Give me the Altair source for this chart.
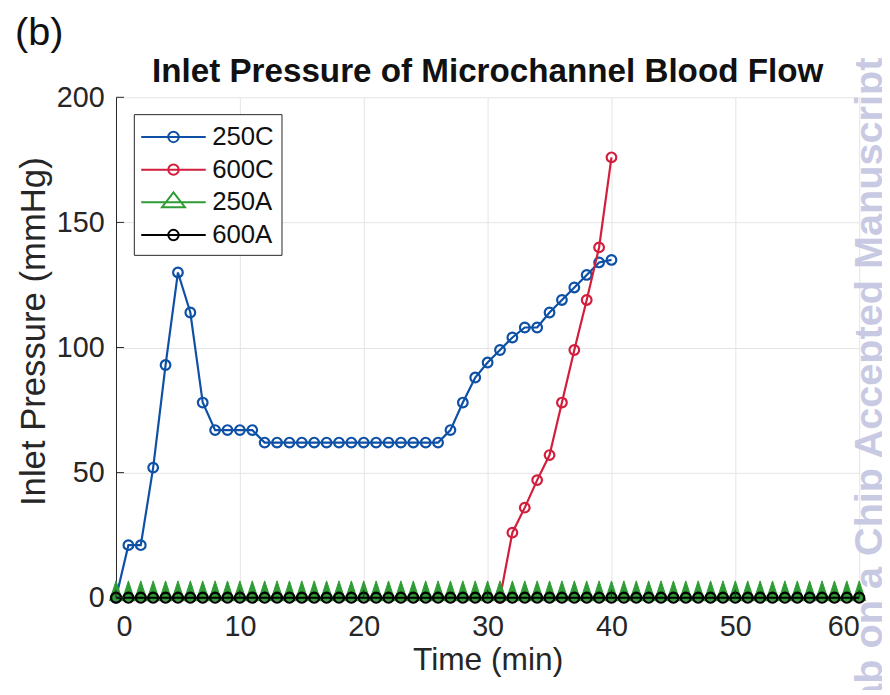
import altair as alt
import pandas as pd

# ---------------- data ----------------
series_names = ["250C", "600C", "250A", "600A"]
series_colors = ["#0e50a6", "#d21e3c", "#2e9b34", "#000000"]

t_250C = [0, 1, 2, 3, 4, 5, 6, 7, 8, 9, 10, 11, 12, 13, 14, 15, 16, 17, 18, 19, 20,
          21, 22, 23, 24, 25, 26, 27, 28, 29, 30, 31, 32, 33, 34, 35, 36, 37, 38, 39, 40]
p_250C = [0, 21, 21, 52, 93, 130, 114, 78, 67, 67, 67, 67, 62, 62, 62, 62, 62, 62, 62, 62, 62,
          62, 62, 62, 62, 62, 62, 67, 78, 88, 94, 99, 104, 108, 108, 114, 119, 124, 129, 134, 135]

t_600C = [31, 32, 33, 34, 35, 36, 37, 38, 39, 40]
p_600C = [0, 26, 36, 47, 57, 78, 99, 119, 140, 176]

t_A = [0, 1, 2, 3, 4, 5, 6, 7, 8, 9, 10, 11, 12, 13, 14, 15, 16, 17, 18, 19, 20,
       21, 22, 23, 24, 25, 26, 27, 28, 29, 30, 31, 32, 33, 34, 35, 36, 37, 38, 39, 40,
       41, 42, 43, 44, 45, 46, 47, 48, 49, 50, 51, 52, 53, 54, 55, 56, 57, 58, 59, 60]
p_250A = [0, 0, 0, 0, 0, 0, 0, 0, 0, 0, 0, 0, 0, 0, 0, 0, 0, 0, 0, 0, 0,
          0, 0, 0, 0, 0, 0, 0, 0, 0, 0, 0, 0, 0, 0, 0, 0, 0, 0, 0, 0,
          0, 0, 0, 0, 0, 0, 0, 0, 0, 0, 0, 0, 0, 0, 0, 0, 0, 0, 0, 0]
p_600A = [0, 0, 0, 0, 0, 0, 0, 0, 0, 0, 0, 0, 0, 0, 0, 0, 0, 0, 0, 0, 0,
          0, 0, 0, 0, 0, 0, 0, 0, 0, 0, 0, 0, 0, 0, 0, 0, 0, 0, 0, 0,
          0, 0, 0, 0, 0, 0, 0, 0, 0, 0, 0, 0, 0, 0, 0, 0, 0, 0, 0, 0]

x_ticks = [0, 10, 20, 30, 40, 50, 60]
y_ticks = [0, 50, 100, 150, 200]

title_text = "Inlet Pressure of Microchannel Blood Flow"
panel_label = "(b)"
watermark_text = "Lab on a Chip Accepted Manuscript"
x_title = "Time (min)"
y_title = "Inlet Pressure (mmHg)"

# ---------------- tables ----------------
df = pd.concat([
    pd.DataFrame({"series": "250C", "t": t_250C, "p": p_250C}),
    pd.DataFrame({"series": "600C", "t": t_600C, "p": p_600C}),
    pd.DataFrame({"series": "250A", "t": t_A, "p": p_250A}),
    pd.DataFrame({"series": "600A", "t": t_A, "p": p_600A}),
], ignore_index=True)

W, H = 750, 505
FONT = "Liberation Sans"
AX = "#262626"

xs = alt.Scale(domain=[0, 60], nice=False, zero=False)
ys = alt.Scale(domain=[0, 200], nice=False)
x_axis = alt.Axis(values=x_ticks, title=x_title, ticks=False, tickSize=0, labelPadding=15,
                  format="d", titleY=72, titleBaseline="alphabetic", titleFontSize=32)
y_axis = alt.Axis(values=y_ticks, title=y_title, ticks=False, tickSize=0, labelPadding=12,
                  format="d", titleX=-72, titleY=236, titleAngle=270, titleBaseline="alphabetic",
                  titleFontSize=35)
X = alt.X("t:Q", scale=xs, axis=x_axis)
Y = alt.Y("p:Q", scale=ys, axis=y_axis)

base = alt.Chart(df)

# marker glyph for the green triangles (tall, slightly raised like the original)
tri_plot = "M0,-1.7L0.65,0.3L-0.65,0.3Z"


def series(name, color, shape, size, filled=False, sw=2):
    b = base.transform_filter(alt.datum.series == name)
    line = b.mark_line(color=color, strokeWidth=2.2).encode(x=X, y=Y)
    pts = b.mark_point(shape=shape, size=size, filled=filled, color=color,
                       strokeWidth=sw, opacity=1, stroke=color).encode(x=X, y=Y)
    return [line, pts]


layers = []
layers += series("250C", series_colors[0], "circle", 95, sw=2.2)
layers += series("600C", series_colors[1], "circle", 95, sw=2.2)
layers += series("250A", series_colors[2], tri_plot, 400, filled=True, sw=1)
layers += series("600A", series_colors[3], "circle", 100, sw=2.4)

# legend carrier (no visible data), symbols = line through marker
legend_paths = [
    "M-2.17,0H2.17M0.35,0A0.35,0.35,0,1,1,-0.35,0A0.35,0.35,0,1,1,0.35,0",
    "M-2.17,0H2.17M0.35,0A0.35,0.35,0,1,1,-0.35,0A0.35,0.35,0,1,1,0.35,0",
    "M-2.17,0H2.17M0,-0.67L0.77,0.33L-0.77,0.33Z",
    "M-2.17,0H2.17M0.35,0A0.35,0.35,0,1,1,-0.35,0A0.35,0.35,0,1,1,0.35,0",
]
leg = alt.Legend(title=None, orient="none", legendX=18, legendY=17,
                 strokeColor=AX, fillColor="white", padding=7,
                 labelFont=FONT, labelFontSize=26, labelColor="#111111", labelOffset=23,
                 symbolSize=900, symbolStrokeWidth=2, symbolFillColor="transparent",
                 symbolOpacity=1, symbolOffset=17, rowPadding=4)
legend_layer = base.transform_filter("false").mark_point(size=900, filled=False, opacity=1).encode(
    x=X, y=Y,
    color=alt.Color("series:N", scale=alt.Scale(domain=series_names, range=series_colors), legend=leg),
    shape=alt.Shape("series:N", scale=alt.Scale(domain=series_names, range=legend_paths), legend=leg),
)
layers.append(legend_layer)

# inward ticks
ytick_layer = alt.Chart(pd.DataFrame({"p": y_ticks})).mark_rule(color=AX, strokeWidth=1).encode(
    y=Y, x=alt.value(0), x2=alt.value(8))
xtick_layer = alt.Chart(pd.DataFrame({"t": x_ticks})).mark_rule(color=AX, strokeWidth=1).encode(
    x=X, y=alt.value(H), y2=alt.value(H - 8))
layers += [ytick_layer, xtick_layer]


def text_layer(txt, x, y, **kw):
    return alt.Chart(pd.DataFrame({"txt": [txt]})).mark_text(**kw).encode(
        text="txt:N", x=alt.value(x), y=alt.value(y))


layers.append(text_layer(title_text, W / 2, -15, font=FONT, fontSize=33.5, fontWeight="bold",
                         color="#111111", align="center", baseline="alphabetic"))
layers.append(text_layer(panel_label, -102, -53, font=FONT, fontSize=40,
                         color="#111111", align="left", baseline="alphabetic"))
layers.append(text_layer(watermark_text, 773, -40, font=FONT, fontSize=40, fontWeight="bold",
                         color="#c3c4e0", opacity=0.9, angle=270, align="right",
                         baseline="alphabetic"))

chart = alt.layer(*layers).properties(
    width=W, height=H, background="white",
    autosize=alt.AutoSizeParams(type="none"),
    padding={"left": 109, "top": 87, "right": 23, "bottom": 90},
).configure_view(stroke=None).configure_axis(
    labelFont=FONT, labelFontSize=29, labelColor=AX,
    titleFont=FONT, titleFontSize=30, titleColor=AX, titleFontWeight="normal",
    gridColor="#e4e4e4", gridWidth=1, domainColor=AX, domainWidth=1,
)

chart.save("out.html", embed_options={"renderer": "svg", "actions": False})
